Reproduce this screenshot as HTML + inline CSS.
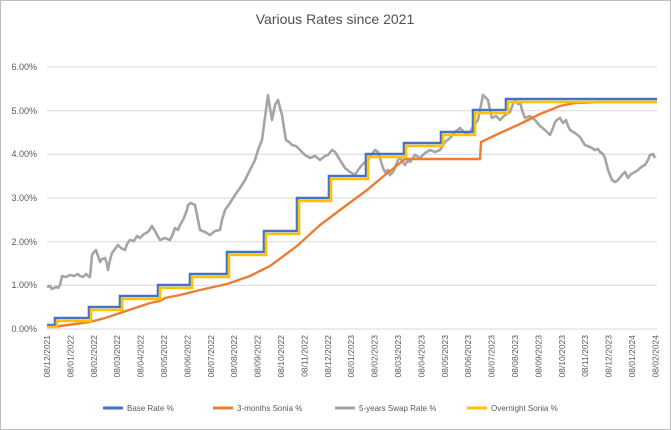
<!DOCTYPE html><html><head><style>body{margin:0;background:#fff}svg{display:block;font-family:"Liberation Sans",sans-serif}</style></head><body>
<svg width="671" height="430" viewBox="0 0 671 430">
<rect x="0.5" y="0.5" width="670" height="429" fill="#fff" stroke="#bfbfbf"/>
<text x="335" y="24" font-size="14" text-anchor="middle" fill="#505050">Various Rates since 2021</text>
<g stroke="#d9d9d9" stroke-width="1">
<line x1="47" x2="657" y1="67" y2="67"/><line x1="47" x2="657" y1="110.7" y2="110.7"/><line x1="47" x2="657" y1="154.3" y2="154.3"/><line x1="47" x2="657" y1="198" y2="198"/><line x1="47" x2="657" y1="241.7" y2="241.7"/><line x1="47" x2="657" y1="285.3" y2="285.3"/><line x1="47" x2="657" y1="329" y2="329"/>
</g>
<g font-size="9" fill="#595959" text-anchor="end">
<text x="37" y="70">6.00%</text><text x="37" y="114">5.00%</text><text x="37" y="157">4.00%</text><text x="37" y="201">3.00%</text><text x="37" y="245">2.00%</text><text x="37" y="288">1.00%</text><text x="37" y="332">0.00%</text>
</g>
<polyline fill="none" stroke="#a5a5a5" stroke-width="2.6" stroke-linejoin="round" points="47,287 50,286 52,289 54,288 56,287 58,288 60,285 62,276 66,277 70,275 74,276 78,274 80,276 83,277 86,274 88,276 90,277 92,255 94,252 96,250 98,256 100,262 102,259 105,258 107,264 108,270 110,260 112,253 115,249 118,245 121,248 125,250 127,244 130,240 134,241 137,236 140,238 144,234 148,232 150,229 152,226 155,231 157,235 160,240 165,238 170,240 172,236 175,228 178,230 180,225 183,220 185,215 187,210 188,205 191,203 195,205 197,215 200,230 205,232 210,235 215,231 220,230 222,220 225,210 230,203 235,195 240,188 245,180 250,170 255,160 258,150 262,140 264,125 266,110 268,95 270,108 272,120 275,105 278,100 280,108 282,115 284,128 286,140 289,142 292,145 296,146 300,150 305,155 310,158 315,156 320,160 325,156 328,155 332,150 335,152 340,160 345,168 350,172 355,175 358,170 362,165 365,162 368,160 371,155 375,150 378,152 380,158 383,168 385,172 388,170 390,175 393,172 395,168 398,160 400,158 403,162 405,165 408,160 410,162 415,155 420,158 425,153 430,150 435,152 440,150 445,142 450,138 455,132 460,128 465,133 470,132 474,125 478,120 481,105 483,95 486,98 488,100 490,110 492,118 496,116 500,120 505,115 510,112 513,104 515,100 518,104 520,102 522,110 525,118 530,116 535,120 540,126 545,130 548,133 550,135 553,128 555,122 558,119 560,118 563,123 566,120 568,126 570,130 575,133 580,137 583,142 585,145 590,147 595,150 598,149 600,152 603,154 605,158 608,170 612,180 615,182 618,180 622,175 625,172 627,176 628,178 631,174 635,172 638,170 640,168 643,166 645,165 648,160 650,155 653,154 655,158"/>
<polyline fill="none" stroke="#ed7d31" stroke-width="2.4" points="47,327 60,326 75,324 90,322 105,318 120,313 135,308 150,303 160,301 165,298 180,295 200,290 227,284 250,276 270,266 297,246 320,225 340,210 367,190 385,175 400,163 405,159 480,159 481,142 500,133 520,124 540,114 560,106 575,103 600,102 657,102"/>
<polyline fill="none" stroke="#4472c4" stroke-width="2.6" points="47,325 55,325 55,318 89,318 89,307 120,307 120,296 158,296 158,285 190,285 190,274 227,274 227,252 264,252 264,231 297,231 297,198 329,198 329,176 366,176 366,154 404,154 404,143 441,143 441,132 473,132 473,110 506,110 506,99 657,99"/>
<polyline fill="none" stroke="#ffc000" stroke-width="2.6" points="47,327 57,327 57,321 91,321 91,310 122,310 122,299 160,299 160,288 192,288 192,277 229,277 229,255 266,255 266,234 299,234 299,201 331,201 331,179 368,179 368,157 406,157 406,146 443,146 443,135 475,135 475,113 508,113 508,102 657,102"/>
<g font-size="8" fill="#595959">
<line x1="103" x2="123" y1="408" y2="408" stroke="#4472c4" stroke-width="3"/><text x="127" y="411">Base Rate %</text>
<line x1="213" x2="233" y1="408" y2="408" stroke="#ed7d31" stroke-width="3"/><text x="237" y="411">3-months Sonia %</text>
<line x1="335" x2="355" y1="408" y2="408" stroke="#a5a5a5" stroke-width="3"/><text x="359" y="411">5-years Swap Rate %</text>
<line x1="467" x2="487" y1="408" y2="408" stroke="#ffc000" stroke-width="3"/><text x="491" y="411">Overnight Sonia %</text>
</g>
<g font-size="8.5" fill="#595959" text-anchor="end">
<text transform="translate(50,335) rotate(-90)">08/12/2021</text>
<text transform="translate(73.4,335) rotate(-90)">08/01/2022</text>
<text transform="translate(96.8,335) rotate(-90)">08/02/2022</text>
<text transform="translate(120.2,335) rotate(-90)">08/03/2022</text>
<text transform="translate(143.6,335) rotate(-90)">08/04/2022</text>
<text transform="translate(167,335) rotate(-90)">08/05/2022</text>
<text transform="translate(190.4,335) rotate(-90)">08/06/2022</text>
<text transform="translate(213.8,335) rotate(-90)">08/07/2022</text>
<text transform="translate(237.2,335) rotate(-90)">08/08/2022</text>
<text transform="translate(260.6,335) rotate(-90)">08/09/2022</text>
<text transform="translate(284,335) rotate(-90)">08/10/2022</text>
<text transform="translate(307.4,335) rotate(-90)">08/11/2022</text>
<text transform="translate(330.8,335) rotate(-90)">08/12/2022</text>
<text transform="translate(354.2,335) rotate(-90)">08/01/2023</text>
<text transform="translate(377.6,335) rotate(-90)">08/02/2023</text>
<text transform="translate(401,335) rotate(-90)">08/03/2023</text>
<text transform="translate(424.4,335) rotate(-90)">08/04/2023</text>
<text transform="translate(447.8,335) rotate(-90)">08/05/2023</text>
<text transform="translate(471.2,335) rotate(-90)">08/06/2023</text>
<text transform="translate(494.6,335) rotate(-90)">08/07/2023</text>
<text transform="translate(518,335) rotate(-90)">08/08/2023</text>
<text transform="translate(541.4,335) rotate(-90)">08/09/2023</text>
<text transform="translate(564.8,335) rotate(-90)">08/10/2023</text>
<text transform="translate(588.2,335) rotate(-90)">08/11/2023</text>
<text transform="translate(611.6,335) rotate(-90)">08/12/2023</text>
<text transform="translate(635,335) rotate(-90)">08/01/2024</text>
<text transform="translate(658.4,335) rotate(-90)">08/02/2024</text>
</g>
</svg>
</body></html>
